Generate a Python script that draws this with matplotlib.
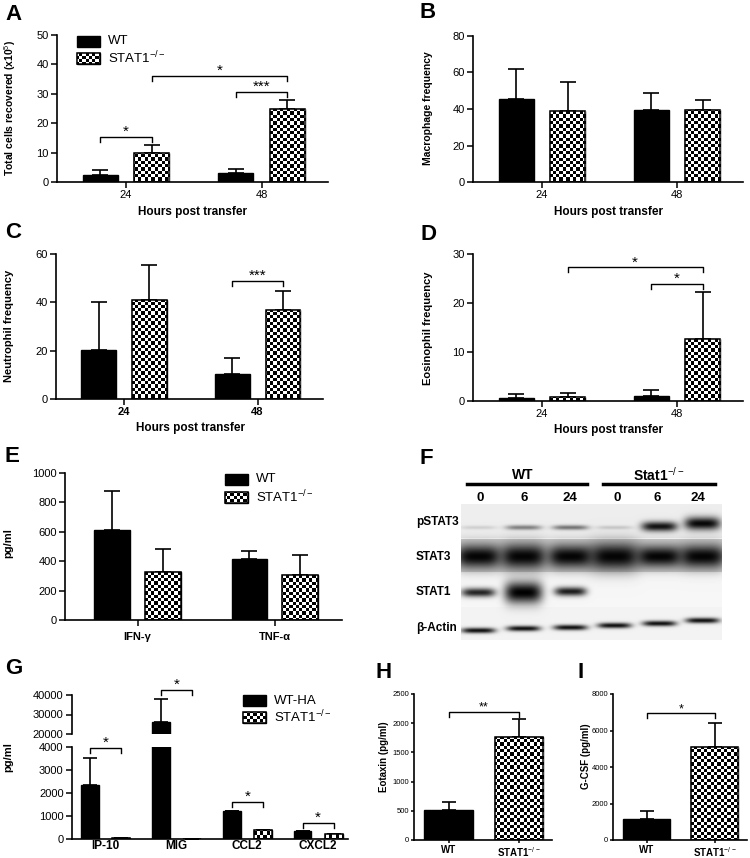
import numpy as np
import matplotlib
matplotlib.use('Agg')
import matplotlib.pyplot as plt
from matplotlib.patches import Rectangle

W, H = 750, 858
plt.rcParams['font.family'] = ['Liberation Sans', 'DejaVu Sans']
plt.rcParams['mathtext.fontset'] = 'custom'
plt.rcParams['mathtext.rm'] = 'Liberation Sans'
plt.rcParams['mathtext.it'] = 'Liberation Sans:italic'
plt.rcParams['mathtext.bf'] = 'Liberation Sans:bold'

# ---------------- data ----------------
time_labels = ['24', '48']

A_wt = [2.5, 3.0];   A_wt_err = [1.5, 1.3]
A_ko = [10.0, 25.0]; A_ko_err = [2.5, 3.0]

B_wt = [45.5, 39.5]; B_wt_err = [16.5, 9.5]
B_ko = [39.0, 39.5]; B_ko_err = [16.0, 5.5]

C_wt = [20.3, 10.5]; C_wt_err = [19.7, 6.5]
C_ko = [41.0, 37.0]; C_ko_err = [14.3, 7.8]

D_wt = [0.6, 1.0];   D_wt_err = [0.8, 1.2]
D_ko = [0.8, 12.6];  D_ko_err = [0.8, 9.6]

cytokines = ['IFN-γ', 'TNF-α']
E_wt = [610, 415];   E_wt_err = [265, 57]
E_ko = [328, 305];   E_ko_err = [155, 138]

chemokines = ['IP-10', 'MIG', 'CCL2', 'CXCL2']
G_wt = [2330, 26000, 1200, 350];   G_wt_err = [1190, 12000, 10, 0]
G_ko = [60, 20, 380, 220];         G_ko_err = [0, 0, 0, 0]

genotypes = ['WT', 'STAT1$^{-/-}$']
H_vals = [515, 1770];   H_err = [135, 300]
I_vals = [1130, 5120];  I_err = [470, 1300]

blot_lanes = ['0', '6', '24', '0', '6', '24']
blot_rows = ['pSTAT3', 'STAT3', 'STAT1', 'β-Actin']

# ---------------- helpers ----------------
fig = plt.figure(figsize=(W / 100, H / 100), dpi=100)

def px_ax(x0, x1, yt, yb, **kw):
    return fig.add_axes([x0 / W, 1 - yb / H, (x1 - x0) / W, (yb - yt) / H], **kw)

CELL = 3.3
checker = (np.add.outer(np.arange(int(H / CELL) + 1), np.arange(int(W / CELL) + 1)) % 2).astype(float)

def fill_checker(ax, patches):
    for p in patches:
        im = ax.imshow(checker, cmap='gray', vmin=0, vmax=1, extent=[0, 1, 0, 1],
                       transform=fig.transFigure, interpolation='nearest',
                       aspect='auto', zorder=2.1)
        im.set_clip_path(p)

def bars(ax, x, vals, errs, width, solid, capsize=6, pattern=True):
    if solid:
        ax.bar(x, vals, width, color='black', edgecolor='black', lw=1, zorder=2)
    else:
        b = ax.bar(x, vals, width, color='white', edgecolor='black', lw=1, zorder=2)
        if pattern:
            fill_checker(ax, b.patches)
        ax.bar(x, vals, width, fill=False, edgecolor='black', lw=1.1, zorder=3)
    errs = np.asarray(errs, float)
    ax.errorbar(x, vals, yerr=[np.zeros_like(errs), errs], fmt='none', ecolor='black',
                elinewidth=1.2, capsize=capsize, capthick=1.2, zorder=1.5)

def style(ax, xlim, ylim, yticks, xticks, xlabels, xbold=False, ts=8, xlen=4):
    ax.set_xlim(xlim); ax.set_ylim(ylim)
    ax.set_yticks(yticks)
    ax.set_xticks(xticks)
    ax.set_xticklabels(xlabels, fontweight='bold' if xbold else 'normal')
    for s in ['top', 'right']:
        ax.spines[s].set_visible(False)
    for s in ['left', 'bottom']:
        ax.spines[s].set_linewidth(1.2)
    ax.tick_params(direction='out', length=4, width=1.1, labelsize=ts, pad=2)
    ax.tick_params(axis='x', length=xlen)
    ax.patch.set_alpha(0)

def bracket(ax, x1, x2, y, label, drop_px=5, fs=11, off=-1.5):
    ymin, ymax = ax.get_ylim()
    hpx = ax.get_position().height * H
    d = drop_px * (ymax - ymin) / hpx
    ax.plot([x1, x1, x2, x2], [y - d, y, y, y - d], color='k', lw=1, clip_on=False)
    ax.annotate(label, ((x1 + x2) / 2, y), xytext=(0, off), textcoords='offset points',
                ha='center', va='bottom', fontsize=fs, annotation_clip=False)

ov = fig.add_axes([0, 0, 1, 1], zorder=10)
ov.set_xlim(0, W); ov.set_ylim(H, 0); ov.axis('off')
ov.patch.set_alpha(0)

def T(x, y, s, **kw):
    ov.text(x, y, s, **kw)

def legend(x, y_wt, y_ko, label_wt, label_ko, fs=9.5):
    r1 = Rectangle((x, y_wt - 5.5), 23, 11, facecolor='black', edgecolor='black', lw=1)
    ov.add_patch(r1)
    r2 = Rectangle((x, y_ko - 5.5), 23, 11, facecolor='white', edgecolor='black', lw=1)
    ov.add_patch(r2)
    im = ov.imshow(checker, cmap='gray', vmin=0, vmax=1, extent=[0, 1, 0, 1],
                   transform=fig.transFigure, interpolation='nearest', aspect='auto', zorder=2)
    im.set_clip_path(r2)
    ov.add_patch(Rectangle((x, y_ko - 5.5), 23, 11, fill=False, edgecolor='black', lw=1.1, zorder=3))
    T(x + 31, y_wt, label_wt, fontsize=fs, va='center', ha='left')
    T(x + 31, y_ko, label_ko, fontsize=fs, va='center', ha='left')

pos2 = np.arange(2)
OFF, WID = 0.19, 0.26
XL = (-0.51, 1.49)

# ---------------- A ----------------
ax = px_ax(57, 328, 35, 182)
bars(ax, pos2 - OFF, A_wt, A_wt_err, WID, True)
bars(ax, pos2 + OFF, A_ko, A_ko_err, WID, False)
style(ax, XL, (0, 50), [0, 10, 20, 30, 40, 50], pos2, time_labels)
bracket(ax, 0 - OFF, 0 + OFF, 15.3, '*')
bracket(ax, 0 + OFF, 1 + OFF, 36.0, '*')
bracket(ax, 1 - OFF, 1 + OFF, 30.6, '***')
legend(77, 41, 58.5, 'WT', 'STAT1$^{-/-}$')

# ---------------- B ----------------
ax = px_ax(473, 743, 36, 182)
bars(ax, pos2 - OFF, B_wt, B_wt_err, WID, True)
bars(ax, pos2 + OFF, B_ko, B_ko_err, WID, False)
style(ax, XL, (0, 80), [0, 20, 40, 60, 80], pos2, time_labels)

# ---------------- C ----------------
ax = px_ax(56, 323, 254, 399)
bars(ax, pos2 - OFF, C_wt, C_wt_err, WID, True)
bars(ax, pos2 + OFF, C_ko, C_ko_err, WID, False)
style(ax, XL, (0, 60), [0, 20, 40, 60], pos2, time_labels, xbold=True)
bracket(ax, 1 - OFF, 1 + OFF, 48.8, '***')

# ---------------- D ----------------
ax = px_ax(473, 743, 254, 401)
bars(ax, pos2 - OFF, D_wt, D_wt_err, WID, True)
bars(ax, pos2 + OFF, D_ko, D_ko_err, WID, False)
style(ax, XL, (0, 30), [0, 10, 20, 30], pos2, time_labels)
bracket(ax, 0 + OFF, 1 + OFF, 27.3, '*')
bracket(ax, 1 - OFF, 1 + OFF, 23.9, '*')

# ---------------- E ----------------
ax = px_ax(65, 342, 473, 620)
bars(ax, pos2 - 0.185, E_wt, E_wt_err, WID, True)
bars(ax, pos2 + 0.185, E_ko, E_ko_err, WID, False)
style(ax, (-0.53, 1.49), (0, 1000), [0, 200, 400, 600, 800, 1000], pos2, cytokines, xbold=True)
ax.tick_params(axis='x', pad=5)
legend(225, 479, 497, 'WT', 'STAT1$^{-/-}$')

# ---------------- F (western blot) ----------------
bx = px_ax(461, 722, 504, 640)
bh, bw = 136, 261
yy, xx = np.mgrid[0:bh, 0:bw].astype(float)
img = np.ones((bh, bw))
img[0:34] = 0.93
img[34:35] = 1.0
img[35:68] = 0.82
img[68:103] = 0.965
img[103:136] = 0.95
lane_x = [17, 62, 109, 153, 198, 241]
# (row centre, lane index, half width, half height, darkness)
bands = []
for i, (yc, hh, dk) in enumerate(zip([23, 23, 23, 23, 22, 19],
                                     [2.0, 2.5, 2.5, 2.0, 5.0, 6.5],
                                     [0.12, 0.45, 0.5, 0.15, 0.92, 0.97])):
    bands.append((yc, i, 18, hh, dk))
for i, (hw, hh) in enumerate(zip([23, 23, 23, 25, 23, 23], [12, 13, 12, 14, 11, 12])):
    bands.append((52, i, hw, hh, 0.98))
for i, (yc, hw, hh, dk) in enumerate(zip([88, 88, 87], [17, 19, 16], [4.5, 11, 4.5], [0.85, 1.0, 0.88])):
    bands.append((yc, i, hw, hh, dk))
for i, yc in enumerate([126, 124, 123, 121, 119, 116]):
    bands.append((yc, i, 17, 2.8, 0.92))
for yc, li, hw, hh, dk in bands:
    g = dk * np.exp(-(np.abs(xx - lane_x[li]) / hw) ** 4) * np.exp(-((yy - yc) / hh) ** 2)
    img *= (1 - g)
bx.imshow(img, cmap='gray', vmin=0, vmax=1, extent=[0, bw, bh, 0], aspect='auto', interpolation='bilinear')
bx.axis('off')

T(523, 475, 'WT', fontsize=10, fontweight='bold', ha='center', va='center')
T(659, 475, 'Stat1$^{-/-}$', fontsize=10, fontweight='bold', ha='center', va='center')
ov.plot([467, 587], [484, 484], color='k', lw=2.5)
ov.plot([603, 715], [484, 484], color='k', lw=2.5)
for lx, lab in zip([480, 524, 570, 617, 657, 698], blot_lanes):
    T(lx, 498, lab, fontsize=9.5, fontweight='bold', ha='center', va='center')
for ry, lab in zip([522, 557, 592, 628], blot_rows):
    T(416, ry, lab, fontsize=8.5, fontweight='bold', ha='left', va='center')

# ---------------- G (broken axis) ----------------
pos4 = np.arange(4)
GOFF, GW = 0.22, 0.25
axu = px_ax(72, 348, 695, 734)
axl = px_ax(72, 348, 747, 839)
bars(axu, pos4 - GOFF, G_wt, G_wt_err, GW, True, capsize=4.7)
bars(axu, pos4 + GOFF, G_ko, G_ko_err, GW, False, capsize=4.7, pattern=False)
bars(axl, pos4 - GOFF, G_wt, G_wt_err, GW, True, capsize=4.7)
bars(axl, pos4 + GOFF, G_ko, G_ko_err, GW, False, capsize=4.7)
style(axl, (-0.47, 3.42), (0, 4000), [0, 1000, 2000, 3000, 4000], pos4, chemokines, xbold=True, xlen=0)
axl.tick_params(axis='x', pad=1, labelsize=8.5)
style(axu, (-0.47, 3.42), (20000, 40000), [20000, 30000, 40000], [], [])
axu.spines['bottom'].set_visible(False)
bracket(axl, 0 - GOFF, 0 + GOFF, 3950, '*')
bracket(axu, 1 - GOFF, 1 + GOFF, 42500, '*')
bracket(axl, 2 - GOFF, 2 + GOFF, 1610, '*')
bracket(axl, 3 - GOFF, 3 + GOFF, 700, '*')
legend(243, 700.5, 717, 'WT-HA', 'STAT1$^{-/-}$')

# ---------------- H ----------------
ax = px_ax(414, 552, 694, 840)
bars(ax, [0], H_vals[:1], H_err[:1], 0.69, True, capsize=5)
bars(ax, [1], H_vals[1:], H_err[1:], 0.69, False, capsize=5)
style(ax, (-0.49, 1.47), (0, 2500), [0, 500, 1000, 1500, 2000, 2500], [0, 1], genotypes, ts=5.5)
ax.tick_params(length=2, pad=1.5)
for t in ax.get_xticklabels():
    t.set_fontsize(7); t.set_fontweight('bold')
bracket(ax, 0, 1, 2200, '**', fs=9)

# ---------------- I ----------------
ax = px_ax(613, 747, 694, 840)
bars(ax, [0], I_vals[:1], I_err[:1], 0.69, True, capsize=5)
bars(ax, [1], I_vals[1:], I_err[1:], 0.69, False, capsize=5)
style(ax, (-0.49, 1.47), (0, 8000), [0, 2000, 4000, 6000, 8000], [0, 1], genotypes, ts=5.5)
ax.tick_params(length=2, pad=1.5)
for t in ax.get_xticklabels():
    t.set_fontsize(7); t.set_fontweight('bold')
bracket(ax, 0, 1, 6950, '*', fs=9)

# ---------------- titles, labels ----------------
LB = dict(fontsize=16, fontweight='bold', ha='center', va='center')
for x, y, s in [(14, 14, 'A'), (428, 13, 'B'), (13, 233, 'C'), (428, 235, 'D'),
                (12, 456, 'E'), (426, 459, 'F'), (14, 668, 'G'), (384, 673, 'H'), (581, 673, 'I')]:
    T(x, y, s, **LB)

YL = dict(fontweight='bold', rotation=90, ha='center', va='center')
T(10, 108, 'Total cells recovered (x10$^{5}$)', fontsize=7.5, **YL)
T(428, 108, 'Macrophage frequency', fontsize=7.5, **YL)
T(9, 326, 'Neutrophil frequency', fontsize=8, **YL)
T(428, 328, 'Eosinophil frequency', fontsize=8, **YL)
T(8, 543, 'pg/ml', fontsize=8, **YL)
T(8, 757, 'pg/ml', fontsize=8, **YL)
T(384, 757, 'Eotaxin (pg/ml)', fontsize=7, **YL)
T(586, 756, 'G-CSF (pg/ml)', fontsize=7, **YL)

XLB = dict(fontsize=8.5, fontweight='bold', ha='center', va='center')
T(193, 212, 'Hours post transfer', **XLB)
T(608, 212, 'Hours post transfer', **XLB)
T(190, 428, 'Hours post transfer', **XLB)
T(608, 430, 'Hours post transfer', **XLB)

fig.savefig('out.png', dpi=100)
